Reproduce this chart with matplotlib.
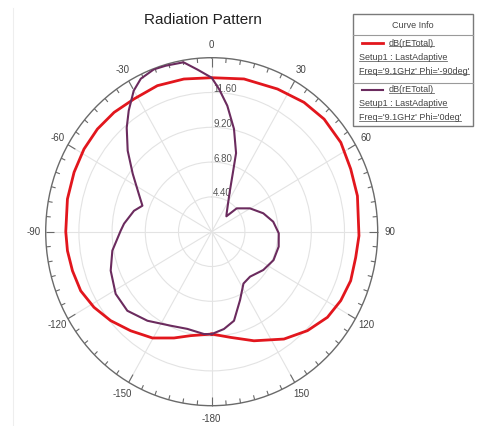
import numpy as np
import matplotlib
matplotlib.use("Agg")
import matplotlib.pyplot as plt
from matplotlib.lines import Line2D
from matplotlib.patches import Rectangle

plt.rcParams['font.family'] = ['Liberation Sans', 'DejaVu Sans']

# ---------------- data ----------------
title = "Radiation Pattern"
r_min, r_max = 2.0, 14.0
ring_values = [4.4, 6.8, 9.2, 11.6]
ring_labels = ["4.40", "6.80", "9.20", "11.60"]
angle_ticks = [0, 30, 60, 90, 120, 150, 180, -150, -120, -90, -60, -30]
angle_labels = ["0", "30", "60", "90", "120", "150", "-180", "-150", "-120", "-90", "-60", "-30"]

# dB(rETotal), Phi = -90deg (red)
red_theta = [-180, -168, -159.6, -149.7, -139.4, -130, -121.5, -113.3, -105, -97.2,
             -90, -77.8, -67.6, -58.3, -49.4, -40.6, -31.5, -21.3, -10.8, 0,
             12.5, 25.8, 36.8, 46.3, 56.6, 66.7, 76.8, 91.5, 99.7, 108.6,
             117, 125.2, 134.6, 144.8, 157.9, 169.3, 180]
red_db = [9.06, 9.33, 9.82, 10.49, 11.0, 11.54, 11.98, 12.31, 12.42, 12.51,
          12.55, 12.67, 12.76, 12.85, 12.88, 12.84, 12.74, 12.81, 12.72, 12.62,
          12.79, 12.93, 13.14, 13.24, 13.18, 12.94, 12.82, 12.65, 12.56, 12.6,
          12.47, 12.24, 11.72, 11.06, 10.12, 9.42, 9.06]

# dB(rETotal), Phi = 0deg (purple)
pur_theta = [-180, -175.5, -165.3, -155.4, -142.9, -131.8, -121.7, -110.2, -100.3, -89.4,
             -85, -75.6, -70.3, -63.6, -55, -47.4, -40.6, -35.7, -30.1, -25.9,
             -20.5, -16.2, -9.9, -5.2, 0, 3.1, 7.4, 12.8, 18, 20.5,
             24.7, 30.1, 40.4, 45, 48.3, 59.8, 71.2, 81.2, 91.3, 102,
             113.7, 125.3, 138.2, 147.3, 156.5, 165.3, 172.5, 180]
pur_db = [9.06, 9.08, 8.93, 9.13, 9.7, 10.18, 10.16, 9.78, 9.3, 8.58,
          8.36, 7.8, 7.32, 7.89, 8.97, 10.25, 11.44, 12.28, 13.24, 13.73,
          13.95, 13.92, 13.86, 13.22, 12.62, 11.85, 10.76, 9.27, 7.7, 6.4,
          5.17, 4.39, 3.67, 3.5, 4.42, 5.2, 5.94, 6.5, 6.85, 6.95,
          6.88, 6.57, 6.16, 6.25, 7.14, 8.35, 8.77, 9.06]

legend_header = "Curve Info"
legend_rows = [
    ("dB(rETotal)", "Setup1 : LastAdaptive", "Freq='9.1GHz' Phi='-90deg'"),
    ("dB(rETotal)", "Setup1 : LastAdaptive", "Freq='9.1GHz' Phi='0deg'"),
]

RED = "#e2161d"
PURPLE = "#6b2b5e"

# ---------------- figure ----------------
W, H = 481, 426
fig = plt.figure(figsize=(W / 100, H / 100), dpi=100)
fig.patch.set_facecolor("white")

cx, cy, rx, ry = 211.7, 231.7, 166, 174
ax = fig.add_axes([(cx - rx) / W, (H - cy - ry) / H, 2 * rx / W, 2 * ry / H],
                  projection="polar")
ax.set_aspect("auto")
ax.set_theta_zero_location("N")
ax.set_theta_direction(-1)
ax.set_ylim(r_min, r_max)
ax.set_thetagrids(np.arange(0, 360, 30), labels=[""] * 12)
ax.set_rgrids(ring_values, labels=[""] * len(ring_values))
ax.grid(True, color="#e3e3e3", linewidth=0.8)
ax.spines["polar"].set_color("#6a6a6a")
ax.spines["polar"].set_linewidth(1.0)
ax.tick_params(length=0)

# tick marks on outer ring
for a in range(0, 360, 5):
    L = 0.62 if a % 30 == 0 else 0.32
    ax.plot([np.deg2rad(a)] * 2, [r_max, r_max - L], color="#6a6a6a",
            lw=0.8, clip_on=False, solid_capstyle="butt")

# angle labels
for a, lab in zip(angle_ticks, angle_labels):
    ax.text(np.deg2rad(a), r_min + 1.075 * (r_max - r_min), lab, ha="center",
            va="center", fontsize=7, color="#444444", clip_on=False)

# ring labels
for rv, lab in zip(ring_values, ring_labels):
    ax.annotate(lab, xy=(0, rv), xytext=(1.5, 3.5), textcoords="offset pixels",
                ha="left", va="center", fontsize=7, color="#555555")

ax.plot(np.deg2rad(red_theta), red_db, color=RED, lw=2.0, zorder=5)
ax.plot(np.deg2rad(pur_theta), pur_db, color=PURPLE, lw=1.5, zorder=6)

# title
fig.text(203 / W, 1 - 20 / H, title, ha="center", va="center", fontsize=11,
         color="#222222")

# faint frame line on the left
fig.add_artist(Line2D([13 / W, 13 / W], [0, 1 - 8 / H], color="#eeeeee",
                      lw=0.8, transform=fig.transFigure))

# ---------------- legend box ----------------
def fx(x):
    return x / W

def fy(y):
    return 1 - y / H

bx0, by0, bx1, by1 = 353, 14, 473, 126
fig.add_artist(Rectangle((fx(bx0), fy(by1)), fx(bx1) - fx(bx0), fy(by0) - fy(by1),
                         transform=fig.transFigure, facecolor="white",
                         edgecolor="#7a7a7a", lw=1.0))
fig.text(fx((bx0 + bx1) / 2), fy(25), legend_header, ha="center", va="center",
         fontsize=6.5, color="#444444")
for ysep in (35, 83):
    fig.add_artist(Line2D([fx(bx0), fx(bx1)], [fy(ysep)] * 2, color="#9a9a9a",
                          lw=0.8, transform=fig.transFigure))

under_texts = []
row_y = [(43, 58, 71), (90, 104, 118)]
colors = [RED, PURPLE]
widths = [2.0, 1.5]
for (l1, l2, l3), (y1, y2, y3), c, w in zip(legend_rows, row_y, colors, widths):
    fig.add_artist(Line2D([fx(362), fx(383)], [fy(y1)] * 2, color=c, lw=w,
                          transform=fig.transFigure))
    under_texts.append(fig.text(fx(389), fy(y1), l1, ha="left", va="center",
                                fontsize=6.5, color="#444444"))
    under_texts.append(fig.text(fx(359), fy(y2), l2, ha="left", va="center",
                                fontsize=6.5, color="#444444"))
    under_texts.append(fig.text(fx(359), fy(y3), l3, ha="left", va="center",
                                fontsize=6.5, color="#444444"))

fig.canvas.draw()
renderer = fig.canvas.get_renderer()
for t in under_texts:
    bb = t.get_window_extent(renderer)
    yy = (bb.y0 + 1.2) / H
    fig.add_artist(Line2D([bb.x0 / W, bb.x1 / W], [yy, yy], color="#666666",
                          lw=0.6, transform=fig.transFigure))

fig.savefig("out.png", dpi=100, facecolor="white")
